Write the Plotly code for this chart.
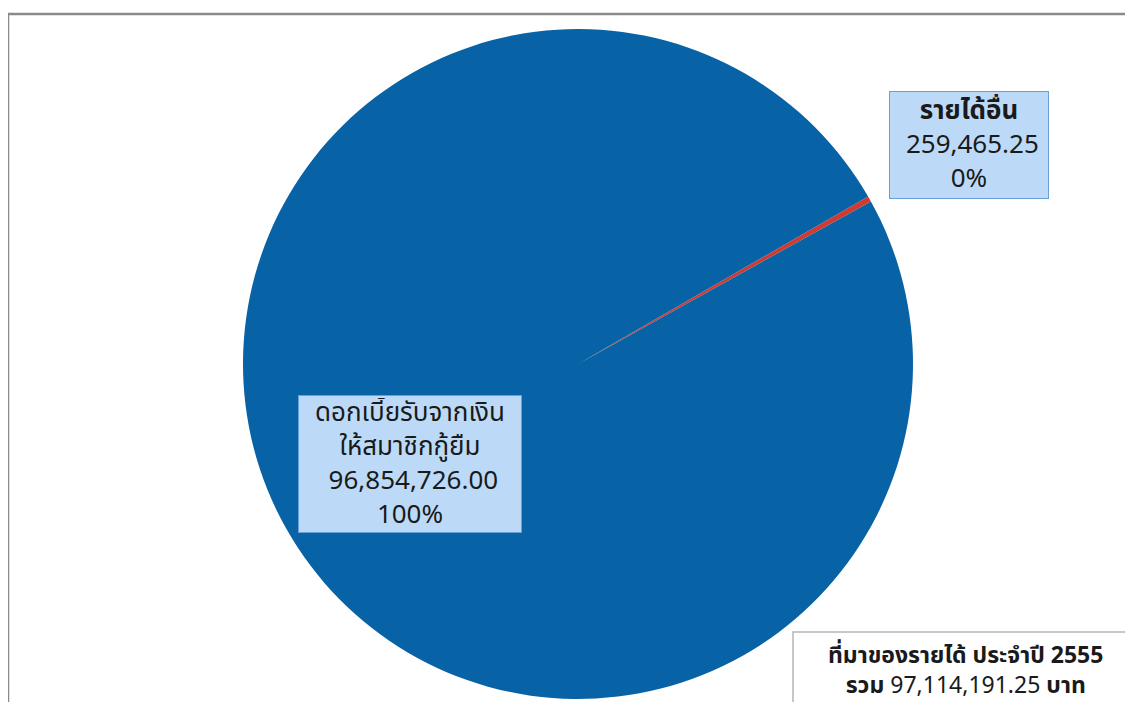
import plotly.graph_objects as go

# ---- data ----
labels = ["รายได้อื่น", "ดอกเบี้ยรับจากเงิน<br>ให้สมาชิกกู้ยืม"]
values = [259465.25, 96854726.00]
colors = ["#d23a2e", "#0862a6"]
title_line1 = "ที่มาของรายได้ ประจำปี 2555"
total_word, total_unit = "รวม", "บาท"

W, H = 1133, 702
OFF = 8  # default page body margin
total = sum(values)
FONT = "Tahoma, Noto Sans Thai, Noto Sans, DejaVu Sans, sans-serif"

def px(x):
    return (x - OFF) / W

def py(y):
    return 1 - (y - OFF) / H

fig = go.Figure(go.Pie(
    labels=labels,
    values=values,
    sort=False,
    direction="clockwise",
    rotation=60,
    marker=dict(colors=colors, line=dict(width=0)),
    textinfo="none",
    hoverinfo="label+value+percent",
    showlegend=False,
    domain=dict(x=[px(238), px(918)], y=[py(699), py(29)]),
))

def label_text(i, bold_first=False):
    name = labels[i]
    if bold_first:
        name = "<b>" + name + "</b>"
    pct = values[i] / total * 100
    return f"{name}<br> {values[i]:,.2f}<br>{pct:.0f}%"

ann_common = dict(xref="paper", yref="paper", xanchor="center", yanchor="middle",
                  showarrow=False, bgcolor="#bcdaf7", bordercolor="#6a9fd4",
                  borderwidth=1, borderpad=2,
                  font=dict(family=FONT, size=26, color="#1a1a1a"))

annotations = [
    dict(text=label_text(0, bold_first=True), x=px(969), y=py(145),
         width=154, height=102, **ann_common),
    dict(text=label_text(1), x=px(410), y=py(464),
         width=218, height=132, **ann_common),
    dict(text=("<b>" + title_line1 + "</b><br>"
               + f"<b>{total_word}</b> {total:,.2f} <b>{total_unit}</b>"),
         xref="paper", yref="paper", x=px(966), y=py(671),
         xanchor="center", yanchor="middle", showarrow=False,
         font=dict(family=FONT, size=23, color="#1a1a1a")),
]

shapes = [
    dict(type="path", xref="paper", yref="paper",
         path=f"M {px(8)},{py(720)} L {px(8)},{py(14)} L {px(1150)},{py(14)}",
         line=dict(color="#8a8a8a", width=2.5)),
    dict(type="rect", xref="paper", yref="paper",
         x0=px(793), x1=px(1150), y0=py(720), y1=py(632),
         fillcolor="white", line=dict(color="#b5b5b5", width=1.5)),
]

fig.update_layout(
    width=W, height=H,
    margin=dict(l=0, r=0, t=0, b=0),
    paper_bgcolor="white",
    plot_bgcolor="white",
    annotations=annotations,
    shapes=shapes,
)

fig.write_html("out.html")
